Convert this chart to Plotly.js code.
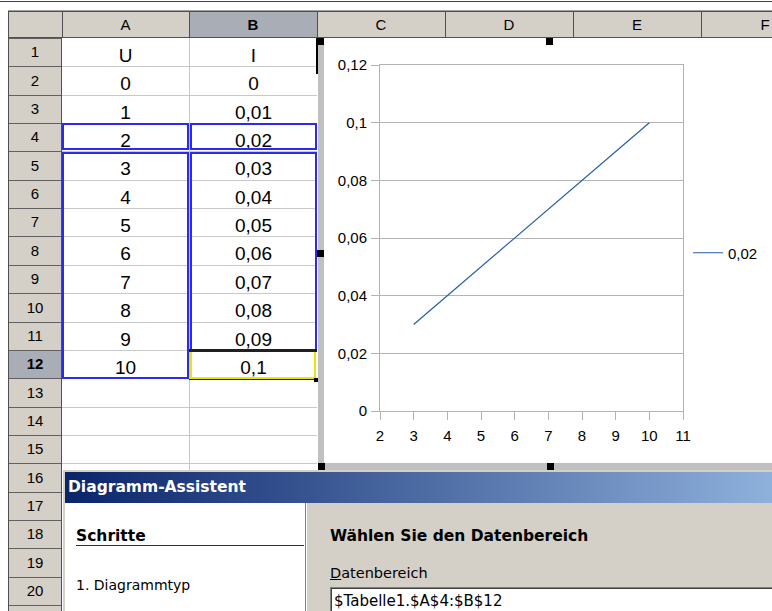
<!DOCTYPE html>
<html><head><meta charset="utf-8">
<script src="https://cdn.plot.ly/plotly-3.0.1.min.js"></script>
<style>
html,body{margin:0;padding:0;}
body{width:772px;height:611px;overflow:hidden;position:relative;background:#fff;font-family:"DejaVu Sans",sans-serif;}
.abs{position:absolute;box-sizing:border-box;white-space:nowrap;}
</style></head><body>
<div id="chart" class="abs" style="left:324px;top:38px;width:448px;height:425px;z-index:2;"></div>
<script>
// ---------- data ----------
const colLetters = ['A', 'B', 'C', 'D', 'E', 'F'];
const headerU = 'U';
const headerI = 'I';
const U = [0, 1, 2, 3, 4, 5, 6, 7, 8, 9, 10];
const I = [0, 0.01, 0.02, 0.03, 0.04, 0.05, 0.06, 0.07, 0.08, 0.09, 0.1];
const seriesName = '0,02';          // first row of the selected range used as series name
const chartX = U.slice(3);          // rows 5..12
const chartY = I.slice(3);
const dialogTitle = 'Diagramm-Assistent';
const stepsTitle = 'Schritte';
const step1 = '1. Diagrammtyp';
const rangeTitle = 'Wählen Sie den Datenbereich';
const rangeLabel = 'Datenbereich';
const rangeValue = '$Tabelle1.$A$4:$B$12';

// ---------- helpers ----------
function box(l, t, w, h, style, text, z) {
  const d = document.createElement('div');
  d.className = 'abs';
  d.style.cssText = `left:${l}px;top:${t}px;width:${w}px;height:${h}px;` + (style || '') + (z !== undefined ? `z-index:${z};` : 'z-index:1;');
  if (text !== undefined) d.innerHTML = text;
  document.body.appendChild(d);
  return d;
}
const RH = 28.35;
const rowTop = i => Math.round(38 + (i - 1) * RH);
const colX = [62, 189, 317, 445, 573, 701, 829];
const fmt = v => String(v).replace('.', ',');

// ---------- sheet ----------
box(0, 1, 772, 1, 'background:#404040;');
box(8, 10, 764, 1, 'background:#a0a0a0;');
box(8, 11, 764, 27, 'background:#d4d0c8;border-top:1px solid #505050;border-bottom:1px solid #505050;');
box(190, 12, 127, 25, 'background:#a9adb5;');
box(8, 11, 1, 600, 'background:#505050;', undefined, 3);
for (let c = 0; c < colX.length; c++) box(colX[c], 11, 1, 27, 'background:#505050;');
for (let c = 0; c < colLetters.length; c++) {
  const l = colX[c], w = colX[c + 1] - colX[c];
  box(l, 13, w, 24, `font:${c === 1 ? 'bold ' : ''}15px "Liberation Sans";line-height:24px;text-align:center;color:#000;`, colLetters[c]);
}
// row header
box(9, 38, 53, 573, 'background:#d4d0c8;');
box(61, 38, 1, 573, 'background:#505050;');
box(9, rowTop(12), 52, rowTop(13) - rowTop(12), 'background:#a9adb5;');
for (let r = 1; r <= 21; r++) {
  const t = rowTop(r), h = rowTop(r + 1) - t;
  box(9, t, 52, 1, 'background:#606060;');
  if (r <= 20) box(9, t, 52, h, `font:${r === 12 ? 'bold ' : ''}15px "Liberation Sans";line-height:${h}px;text-align:center;color:#000;`, String(r));
}
// cells
box(62, 38, 255, 434, 'background:#fff;');
for (let r = 2; r <= 17; r++) box(62, rowTop(r), 255, 1, 'background:#c8c8c8;');
box(189, 38, 1, 434, 'background:#c8c8c8;');
const cellFont = 'font:19px "Liberation Sans";line-height:19px;text-align:center;color:#000;';
box(62, rowTop(1) + 8, 127, 19, cellFont, headerU, 2);
box(190, rowTop(1) + 8, 127, 19, cellFont, headerI, 2);
for (let k = 0; k < U.length; k++) {
  const t = rowTop(k + 2) + 8;
  box(62, t, 127, 19, cellFont, fmt(U[k]), 2);
  box(190, t, 127, 19, cellFont, fmt(I[k]), 2);
}
// selection borders
const blue = '#2a2af0';
box(62, rowTop(4), 127, rowTop(5) - rowTop(4) - 1, `border:2px solid ${blue};`, undefined, 3);
box(190, rowTop(4), 127, rowTop(5) - rowTop(4) - 1, `border:2px solid ${blue};`, undefined, 3);
box(62, rowTop(5) + 1, 127, rowTop(13) - rowTop(5), `border:2px solid ${blue};`, undefined, 3);
box(190, rowTop(5) + 1, 127, rowTop(12) - rowTop(5), `border:2px solid ${blue};border-bottom:none;`, undefined, 3);
box(189, rowTop(12) - 1, 128, 3, 'background:#202020;', undefined, 4);
box(190, rowTop(12) + 2, 126, rowTop(13) - rowTop(12) - 1, 'border:2px solid #e8e800;border-top:none;', undefined, 4);
box(189, rowTop(13) + 1, 128, 1, 'background:#202020;', undefined, 4);
box(314, rowTop(13), 4, 4, 'background:#000;', undefined, 4);
box(316, 38, 2, 36, 'background:#000;', undefined, 4);

// chart frame
box(318, 38, 454, 432, 'background:#fff;');
box(318, 38, 6, 432, 'background:#c0c0c0;', undefined, 3);
box(318, 463, 454, 7, 'background:#c0c0c0;', undefined, 3);
[[317, 38], [546, 38], [317, 250], [318, 463], [547, 463]].forEach(p => box(p[0], p[1], 7, 7, 'background:#000;', undefined, 5));

// ---------- dialog ----------
box(63, 470, 709, 141, 'background:#d4d0c8;', undefined, 6);
box(65, 472, 835, 31, 'background:linear-gradient(90deg,#0a246a 0px,#a6caf0 835px);', undefined, 7);
box(68, 472, 300, 31, 'font:bold 15.5px "DejaVu Sans";line-height:31px;color:#fff;', dialogTitle, 8);
box(65, 503, 240, 108, 'background:#fff;', undefined, 7);
box(305, 503, 1, 108, 'background:#808080;', undefined, 7);
box(306, 503, 1, 108, 'background:#fff;', undefined, 7);
box(76, 527, 220, 18, 'font:bold 15.5px "DejaVu Sans";line-height:18px;color:#000;', stepsTitle, 8);
box(76, 545, 228, 1, 'background:#303030;', undefined, 8);
box(76, 576, 220, 18, 'font:14px "DejaVu Sans";line-height:18px;color:#000;', step1, 8);
box(330, 527, 400, 18, 'font:bold 15.5px "DejaVu Sans";line-height:18px;color:#000;', rangeTitle, 8);
box(330, 564, 300, 18, 'font:14.5px "DejaVu Sans";line-height:18px;color:#000;', '<u>' + rangeLabel.charAt(0) + '</u>' + rangeLabel.slice(1), 8);
box(330, 587, 460, 30, 'background:#fff;border-top:1px solid #808080;border-left:1px solid #808080;box-shadow:inset 1px 1px 0 #404040;', undefined, 8);
box(334, 592, 400, 18, 'font:15px "DejaVu Sans";line-height:18px;color:#000;', rangeValue, 9);

// ---------- chart ----------
const axisGray = '#b3b3b3';
Plotly.newPlot('chart', [{
  type: 'scatter', mode: 'lines', x: chartX, y: chartY, name: seriesName,
  line: { color: '#245ea3', width: 1.2 }
}], {
  width: 448, height: 425,
  margin: { l: 56, r: 89, t: 27, b: 52, autoexpand: false },
  paper_bgcolor: '#fff', plot_bgcolor: '#fff',
  separators: ',.',
  font: { family: '"Liberation Sans", sans-serif', size: 15, color: '#000' },
  showlegend: true,
  legend: { x: 1.0165, y: 0.4566, xanchor: 'left', yanchor: 'middle', bgcolor: 'rgba(0,0,0,0)', font: { size: 15 } },
  xaxis: {
    range: [2, 11], tick0: 0, dtick: 1, showgrid: false, zeroline: false,
    showline: true, mirror: true, linecolor: axisGray, linewidth: 1,
    ticks: 'outside', ticklen: 8, tickcolor: axisGray, tickwidth: 1, ticklabelstandoff: 3
  },
  yaxis: {
    range: [0, 0.12], tick0: 0, dtick: 0.02, showgrid: true, gridcolor: axisGray, gridwidth: 1,
    zeroline: false, showline: true, mirror: true, linecolor: axisGray, linewidth: 1,
    ticks: 'outside', ticklen: 8, tickcolor: axisGray, tickwidth: 1, ticklabelstandoff: 1
  }
}, { staticPlot: true, displayModeBar: false });
</script>
</body></html>
